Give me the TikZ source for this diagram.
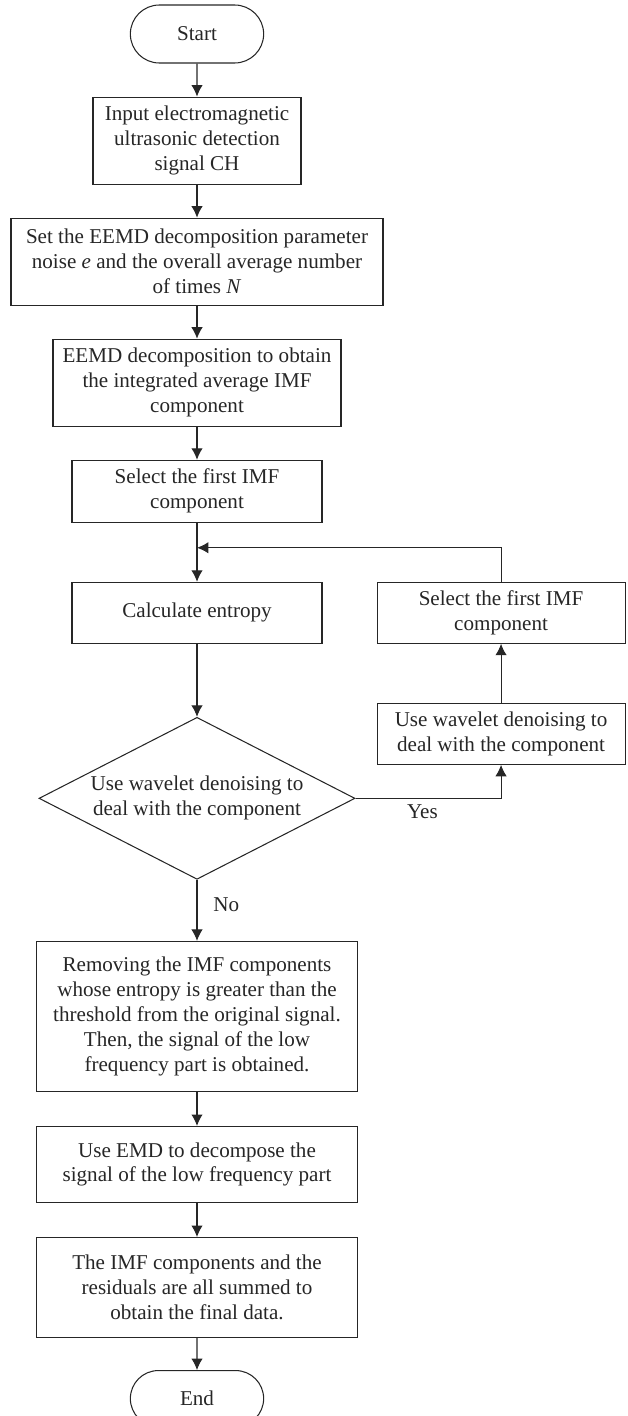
\documentclass[tikz,border=0pt]{standalone}
\usepackage{fontspec}
\setmainfont{Liberation Serif}
\usetikzlibrary{positioning,shapes.geometric,shapes.misc,arrows.meta}

\tikzset{
    box/.style={align=center,draw,inner sep=2pt},
    term/.style={rounded rectangle,draw,minimum width=2.9cm},
    decision/.style={diamond,draw,align=center,aspect=2,inner sep=0pt,minimum width=6.32cm,minimum height=3.24cm},
}

\begin{document}
\begin{tikzpicture}[line width=0.6pt,color=black!85,>={Latex[length=6.5pt,width=6.5pt]},font=\fontsize{12}{14.2}\selectfont]
    \useasboundingbox (0,0) rectangle (12.56,-28.32);
    \draw
        node[term,minimum height=1.16cm] (start) at (3.94,-0.68) {Start}

        node[box,below=0.66cm of start,minimum width=4.16cm,minimum height=1.74cm] (input) {Input electromagnetic\\ultrasonic detection\\signal CH}
        node[box,below=0.66cm of input,minimum width=7.44cm,minimum height=1.74cm] (param) {Set the EEMD decomposition parameter\\noise \textit{e} and the overall average number\\of times \textit{N}}
        node[box,below=0.66cm of param,minimum width=5.76cm,minimum height=1.74cm] (eemd) {EEMD decomposition to obtain\\the integrated average IMF\\component}
        node[box,below=0.66cm of eemd,minimum width=5cm,minimum height=1.24cm] (select) {Select the first IMF\\component}

        node[box,below=1.18cm of select,minimum width=5cm,minimum height=1.22cm] (entropy) {Calculate entropy}
        node[decision,below=1.46cm of entropy] (check) {Use wavelet denoising to\\deal with the component}

        node[box,right=1.08cm of entropy,minimum width=4.96cm,minimum height=1.22cm] (next) {Select the first IMF\\component}
        node[box,below=1.18cm of next,minimum width=4.96cm,minimum height=1.22cm] (denoise) {Use wavelet denoising to\\deal with the component}

        node[box,below=1.22cm of check,minimum width=6.42cm,minimum height=3cm] (remove) {Removing the IMF components\\whose entropy is greater than the\\threshold from the original signal.\\Then, the signal of the low\\frequency part is obtained.}
        node[box,below=0.68cm of remove,minimum width=6.42cm,minimum height=1.52cm] (emd) {Use EMD to decompose the\\signal of the low frequency part}
        node[box,below=0.68cm of emd,minimum width=6.42cm,minimum height=2cm] (sum) {The IMF components and the\\residuals are all summed to\\obtain the final data.}
        node[term,below=0.64cm of sum,minimum height=1.12cm] (end) {End}
    ;
    \coordinate[below=0.5cm of select] (join);

    \draw[->] (start)-- (input);
    \draw[->] (input)-- (param);
    \draw[->] (param)-- (eemd);
    \draw[->] (eemd)-- (select);
    \draw[->] (select)-- (entropy);
    \draw[->] (entropy)-- (check);
    \draw[->] (check.east) -| (denoise.south) node[pos=0.23,below] {Yes};
    \draw[->] (denoise)-- (next);
    \draw[->] (next.north) |- (join);
    \draw[->] (check)-- (remove) node[pos=0.4,right=0.2cm] {No};
    \draw[->] (remove)-- (emd);
    \draw[->] (emd)-- (sum);
    \draw[->] (sum)-- (end);
\end{tikzpicture}
\end{document}
